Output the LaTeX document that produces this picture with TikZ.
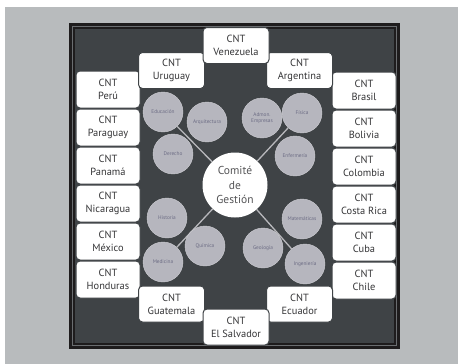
\documentclass[tikz,border=0pt]{standalone}
\usepackage{fontspec}
\setmainfont{PT Sans}
\definecolor{bggray}{HTML}{B8BBBD}
\definecolor{framedark}{HTML}{1E1C1D}
\definecolor{panel}{HTML}{3F4346}
\definecolor{frameline}{HTML}{6A6D70}
\definecolor{boxtext}{HTML}{353537}
\definecolor{disc}{HTML}{B6B6BE}
\definecolor{disctext}{HTML}{6C6C84}
\definecolor{ctrtext}{HTML}{555557}
\definecolor{spoke}{HTML}{B8B8BC}
\pgfdeclarelayer{backdrop}
\pgfdeclarelayer{spokes}
\pgfsetlayers{backdrop,spokes,main}
\tikzset{
  cnt/.style={draw=panel, line width=1pt, fill=white, rounded corners=4pt,
    minimum width=64pt, minimum height=37pt, inner sep=0pt, align=center,
    text=boxtext, font=\fontsize{10.4}{12.8}\selectfont},
  tbox/.style={cnt, minimum width=66pt, minimum height=36pt},
  disc/.style={circle, fill=disc, draw=disc!70!white, line width=0.4pt,
    minimum size=40pt, inner sep=0pt, align=center, text=disctext,
    font=\fontsize{5.3}{6}\selectfont},
  hub/.style={circle, fill=white, minimum size=65pt, inner sep=0pt, align=center,
    text=ctrtext, font=\fontsize{11.5}{14.5}\selectfont},
  spokeline/.style={draw=spoke, line width=1.3pt}
}
\begin{document}
\begin{tikzpicture}[x=1pt, y=-1pt]
\useasboundingbox (0,0) rectangle (458,364);
\begin{pgfonlayer}{backdrop}
\fill[white] (0,0) rectangle (458,364);
\fill[bggray] (5,7) rectangle (458,364);
\fill[framedark] (69,23) rectangle (400,349);
\draw[frameline, line width=1pt] (72.5,26.5) rectangle (396.5,345.5);
\fill[panel] (75,29) rectangle (394,343);
\end{pgfonlayer}

% hub and discs
\node[hub] (ctr) at (235,185) {Comité\\de\\Gestión};
\node[disc] (edu) at (163,112) {Educación};
\node[disc] (arq) at (207,122) {Arquitectura};
\node[disc] (der) at (173,154) {Derecho};
\node[disc] (adm) at (262,118) {Admon.\\Empresas};
\node[disc] (fis) at (302,113) {Física};
\node[disc] (enf) at (295,156) {Enfermería};
\node[disc] (his) at (167,218) {Historia};
\node[disc] (qui) at (205,246) {Química};
\node[disc] (med) at (163,262) {Medicina};
\node[disc] (mat) at (302,219) {Matemáticas};
\node[disc] (geo) at (263,248) {Geología};
\node[disc] (ing) at (305,264) {Ingeniería};
\begin{pgfonlayer}{spokes}
\draw[spokeline] (ctr) -- (edu);
\draw[spokeline] (ctr) -- (fis);
\draw[spokeline] (ctr) -- (med);
\draw[spokeline] (ctr) -- (ing);
\end{pgfonlayer}

% left column
\node[cnt] (peru) at (108,89.5) {CNT\\Perú};
\node[cnt] (par) at (108,127.5) {CNT\\Paraguay};
\node[cnt] (pan) at (108,165.5) {CNT\\Panamá};
\node[cnt] (nic) at (108,203.5) {CNT\\Nicaragua};
\node[cnt] (mex) at (108,241.5) {CNT\\México};
\node[cnt] (hon) at (108,279.5) {CNT\\Honduras};
% right column
\node[cnt] (bra) at (364,90.5) {CNT\\Brasil};
\node[cnt] (bol) at (364,128.5) {CNT\\Bolivia};
\node[cnt] (col) at (364,166.5) {CNT\\Colombia};
\node[cnt] (cr) at (364,204.5) {CNT\\Costa Rica};
\node[cnt] (cub) at (364,242.5) {CNT\\Cuba};
\node[cnt] (chi) at (364,280.5) {CNT\\Chile};
% top
\node[tbox] (uru) at (171.5,70.5) {CNT\\Uruguay};
\node[tbox] (arg) at (299.5,70.5) {CNT\\Argentina};
\node[tbox] (ven) at (236,45.5) {CNT\\Venezuela};
% bottom
\node[tbox] (gua) at (171.5,304) {CNT\\Guatemala};
\node[tbox] (ecu) at (299.5,304) {CNT\\Ecuador};
\node[tbox] (sal) at (236,327) {CNT\\El Salvador};
\end{tikzpicture}
\end{document}
